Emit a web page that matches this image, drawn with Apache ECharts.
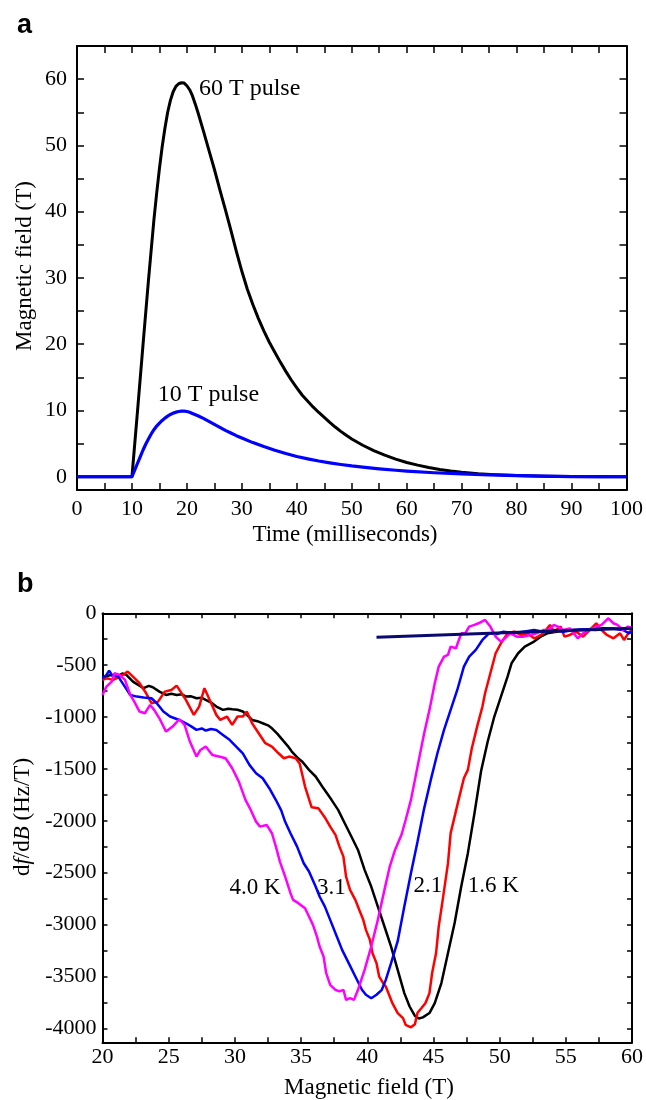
<!DOCTYPE html>
<html><head><meta charset="utf-8">
<script src="https://cdn.jsdelivr.net/npm/echarts@6/dist/echarts.min.js"></script>
<style>html,body{margin:0;padding:0;background:#fff}#c{width:646px;height:1100px}</style>
</head><body><div id="c"></div>
<script>
// ---------- Panel a data: time (ms), field (T) ----------
const pulse60 = [[0,0],[10,0],[10.5,4.9],[11,9.8],[12,19.8],[13,29.6],[14,38.8],[14.5,42.8],[15,46.5],[15.5,49.8],[16,52.6],[16.5,55.0],[17,56.8],[17.5,58.1],[18,58.9],[18.5,59.3],[19,59.45],[19.5,59.4],[20,59.0],[20.5,58.4],[21,57.5],[21.5,56.3],[22,55.0],[23,52.2],[24,49.3],[25,46.4],[26,43.3],[27,40.3],[28,37.2],[29,34.0],[30,31.0],[31,28.3],[32,26.0],[33,23.9],[34,22.0],[35,20.3],[36,18.8],[37,17.3],[38,15.9],[39,14.6],[40,13.4],[41,12.3],[42,11.4],[43,10.5],[44,9.7],[45,8.95],[46,8.2],[47,7.5],[48,6.85],[49,6.25],[50,5.7],[52,4.75],[54,3.95],[56,3.25],[58,2.65],[60,2.15],[62,1.75],[64,1.4],[66,1.1],[68,0.87],[70,0.68],[73,0.47],[76,0.32],[80,0.18],[85,0.07],[90,0.02],[95,0],[100,0]];
const pulse10 = [[0,0],[10,0],[10.5,1.0],[11,2.0],[11.5,3.0],[12,4.0],[12.5,4.9],[13,5.7],[13.5,6.45],[14,7.1],[14.5,7.65],[15,8.1],[15.5,8.5],[16,8.85],[16.5,9.15],[17,9.4],[17.5,9.6],[18,9.75],[18.5,9.85],[19,9.9],[19.5,9.9],[20,9.85],[20.5,9.72],[21,9.55],[22,9.2],[23,8.8],[24,8.35],[25,7.9],[26,7.45],[27,7.0],[28,6.6],[29,6.2],[30,5.85],[32,5.15],[34,4.55],[36,4.0],[38,3.5],[40,3.05],[42,2.7],[44,2.38],[46,2.1],[48,1.85],[50,1.63],[52,1.45],[55,1.2],[58,0.98],[60,0.85],[65,0.6],[70,0.42],[75,0.28],[80,0.16],[85,0.08],[90,0.03],[95,0.01],[100,0]];
const aXLabels = [0,10,20,30,40,50,60,70,80,90,100];
const aXTicks = [0,5,10,15,20,25,30,35,40,45,50,55,60,65,70,75,80,85,90,95,100];
const aYLabels = [0,10,20,30,40,50,60];
const aYTicks = [0,5,10,15,20,25,30,35,40,45,50,55,60];
const aNotes = [{name:'60 T pulse', value:[22.2,58.6]},{name:'10 T pulse', value:[14.7,12.4]}];

// ---------- Panel b data: field (T), df/dB (Hz/T) ----------
const curve16K = [[20,-626],[20.6,-594],[21.1,-610],[21.5,-580],[21.8,-594],[22.3,-658],[22.7,-690],[23.1,-722],[23.5,-700],[23.8,-713],[24.3,-755],[24.8,-787],[25.2,-775],[25.6,-787],[26.0,-780],[26.3,-803],[26.7,-800],[27.1,-819],[27.5,-815],[27.8,-835],[28.2,-860],[28.6,-899],[29.1,-931],[29.5,-920],[29.8,-925],[30.2,-930],[30.6,-947],[31.0,-990],[31.3,-1028],[31.7,-1040],[32.1,-1060],[32.5,-1080],[32.8,-1108],[33.2,-1160],[33.6,-1220],[34.0,-1280],[34.3,-1333],[34.8,-1400],[35.1,-1430],[35.6,-1509],[36.1,-1573],[36.6,-1670],[37.3,-1798],[37.8,-1895],[38.3,-2024],[38.8,-2152],[39.3,-2281],[39.8,-2473],[40.3,-2634],[40.8,-2827],[41.3,-3019],[41.8,-3212],[42.3,-3437],[42.8,-3661],[43.2,-3790],[43.6,-3880],[43.9,-3905],[44.2,-3895],[44.7,-3853],[45.1,-3757],[45.6,-3564],[46.1,-3275],[46.6,-2986],[47.1,-2633],[47.6,-2312],[48.1,-1927],[48.6,-1520],[49.1,-1236],[49.6,-995],[50.1,-803],[50.6,-610],[50.9,-482],[51.4,-385],[51.9,-321],[52.6,-273],[53.1,-225],[53.6,-193],[54.3,-177],[55.3,-161],[56.3,-161],[57.3,-145],[58.3,-145],[59.3,-154],[60,-145]];
const curve21K = [[20,-642],[20.3,-626],[20.8,-642],[21.3,-610],[21.6,-590],[21.9,-562],[22.3,-610],[22.8,-674],[23.3,-771],[23.7,-867],[24.2,-851],[24.7,-755],[25.2,-739],[25.6,-697],[25.9,-755],[26.3,-835],[26.9,-979],[27.3,-899],[27.7,-722],[28.1,-835],[28.6,-979],[28.9,-1028],[29.4,-995],[29.8,-1076],[30.2,-995],[30.6,-995],[30.9,-947],[31.3,-1060],[31.8,-1156],[32.3,-1252],[32.8,-1284],[33.3,-1349],[33.7,-1397],[34.1,-1381],[34.6,-1397],[34.9,-1450],[35.3,-1670],[35.8,-1870],[36.3,-1878],[36.8,-1968],[37.2,-2056],[37.6,-2136],[37.9,-2249],[38.2,-2345],[38.4,-2538],[38.7,-2666],[39.1,-2762],[39.4,-2859],[39.7,-2955],[39.9,-3051],[40.2,-3148],[40.4,-3276],[40.7,-3372],[40.9,-3501],[41.2,-3565],[41.4,-3597],[41.7,-3693],[41.9,-3758],[42.3,-3854],[42.7,-3902],[42.9,-3966],[43.3,-3990],[43.6,-3960],[43.8,-3850],[44.1,-3805],[44.4,-3757],[44.7,-3661],[44.9,-3468],[45.2,-3275],[45.4,-3018],[45.7,-2762],[46.1,-2408],[46.3,-2119],[46.6,-1960],[46.9,-1798],[47.3,-1590],[47.6,-1509],[47.9,-1300],[48.3,-1092],[48.7,-899],[48.9,-771],[49.3,-578],[49.7,-385],[50.1,-289],[50.6,-193],[51.1,-177],[51.6,-209],[52.1,-193],[52.6,-241],[52.9,-225],[53.3,-193],[53.8,-112],[54.1,-177],[54.6,-128],[54.9,-225],[55.3,-209],[55.8,-177],[56.3,-225],[56.8,-161],[57.3,-96],[57.7,-161],[58.1,-209],[58.6,-241],[59.1,-193],[59.4,-257],[59.8,-177],[60,-170]];
const curve31K = [[20,-626],[20.3,-594],[20.5,-552],[20.8,-610],[21.1,-594],[21.6,-690],[22.1,-787],[22.6,-803],[23.1,-812],[23.7,-819],[24.1,-867],[24.6,-947],[25.1,-995],[25.8,-1028],[26.3,-1060],[26.7,-1090],[27.1,-1124],[27.5,-1110],[27.8,-1130],[28.2,-1115],[28.6,-1124],[29.1,-1172],[29.6,-1220],[30.1,-1284],[30.6,-1349],[31.1,-1461],[31.6,-1541],[32.1,-1590],[32.6,-1686],[33.1,-1800],[33.5,-1900],[33.8,-2010],[34.2,-2120],[34.7,-2249],[35.2,-2409],[35.6,-2489],[36.1,-2634],[36.4,-2730],[36.8,-2827],[37.2,-2955],[37.7,-3116],[38.1,-3244],[38.6,-3372],[39.1,-3501],[39.6,-3629],[39.9,-3677],[40.3,-3710],[40.7,-3677],[41.1,-3629],[41.4,-3533],[41.8,-3372],[42.3,-3160],[42.8,-2826],[43.3,-2505],[43.8,-2200],[44.3,-1880],[44.8,-1606],[45.3,-1349],[45.8,-1124],[46.3,-931],[46.8,-739],[47.3,-514],[47.7,-417],[48.2,-353],[48.7,-257],[49.2,-193],[49.8,-200],[50.3,-177],[51.1,-193],[51.8,-177],[52.6,-161],[53.3,-177],[54.1,-161],[54.8,-177],[55.6,-161],[56.3,-154],[57.3,-161],[58.3,-145],[59.3,-161],[59.8,-193],[60,-170]];
const curve40K = [[20,-787],[20.3,-706],[20.7,-658],[20.9,-578],[21.3,-594],[21.7,-642],[22.1,-787],[22.4,-851],[22.8,-947],[23.2,-963],[23.6,-883],[23.9,-931],[24.3,-1012],[24.8,-1140],[25.3,-1092],[25.8,-1021],[26.2,-1076],[26.6,-1236],[27.1,-1381],[27.4,-1317],[27.8,-1284],[28.3,-1365],[28.8,-1381],[29.3,-1397],[29.8,-1493],[30.3,-1622],[30.8,-1798],[31.2,-1895],[31.6,-2008],[31.9,-2056],[32.4,-2040],[32.8,-2120],[33.1,-2249],[33.4,-2393],[33.8,-2538],[34.2,-2698],[34.4,-2762],[34.8,-2794],[35.3,-2843],[35.6,-2923],[35.9,-3003],[36.2,-3116],[36.4,-3212],[36.7,-3308],[36.9,-3469],[37.2,-3581],[37.6,-3629],[37.9,-3645],[38.2,-3629],[38.4,-3726],[38.7,-3710],[39.0,-3726],[39.3,-3629],[39.8,-3437],[40.3,-3212],[40.8,-2955],[41.3,-2666],[41.7,-2441],[42.1,-2281],[42.6,-2130],[42.9,-1992],[43.3,-1799],[43.8,-1477],[44.3,-1156],[44.7,-931],[45.1,-674],[45.4,-514],[45.8,-417],[46.1,-401],[46.3,-321],[46.7,-337],[47.1,-193],[47.4,-193],[47.7,-128],[48.1,-112],[48.4,-96],[48.9,-64],[49.3,-128],[49.7,-225],[50.1,-273],[50.4,-241],[50.8,-193],[51.3,-225],[51.8,-225],[52.3,-209],[52.8,-193],[53.3,-161],[53.7,-161],[54.1,-112],[54.4,-128],[54.8,-161],[55.3,-145],[55.9,-241],[56.3,-193],[56.8,-161],[57.3,-128],[57.7,-112],[58.2,-48],[58.6,-96],[58.9,-112],[59.3,-161],[59.7,-128],[60,-140]];
const baseline = [[40.7,-230],[60,-145]];
const bXLabels = [20,25,30,35,40,45,50,55,60];
const bXTicks = [20,22.5,25,27.5,30,32.5,35,37.5,40,42.5,45,47.5,50,52.5,55,57.5,60];
const bYLabels = [0,-500,-1000,-1500,-2000,-2500,-3000,-3500,-4000];
const bYTicks = [0,-250,-500,-750,-1000,-1250,-1500,-1750,-2000,-2250,-2500,-2750,-3000,-3250,-3500,-3750,-4000];
const bNotes = [{name:'4.0 K', value:[29.6,-2650]},{name:'3.1', value:[36.2,-2650]},{name:'2.1', value:[43.5,-2630]},{name:'1.6 K', value:[47.6,-2630]}];

const SERIF = 'Liberation Serif';
function axis(gi, pos, min, max, labels, ticks, show, margin, tickLen) {
  return {
    type: 'value', gridIndex: gi, position: pos, min: min, max: max,
    axisLine: {show: true, onZero: false, lineStyle: {color: '#000', width: 2}},
    axisTick: {show: true, inside: true, length: tickLen, customValues: ticks, lineStyle: {color: '#000', width: 1.5}},
    axisLabel: {show: show, customValues: labels, margin: margin, color: '#000', fontFamily: SERIF, fontSize: 22,
      formatter: v => String(v)},
    splitLine: {show: false}
  };
}
const chart = echarts.init(document.getElementById('c'), null, {renderer: 'canvas'});
function noteLabel(size) {
  return {show: true, position: 'right', distance: 0, formatter: p => p.name, color: '#000', opacity: 1, fontFamily: SERIF, fontSize: size};
}
chart.setOption({
  animation: false,
  backgroundColor: '#fff',
  grid: [
    {left: 77, top: 46, width: 554.7, height: 444},
    {left: 102.5, top: 613.3, width: 533.5, height: 429}
  ],
  xAxis: [
    axis(0, 'bottom', 0, 100, aXLabels, aXTicks, true, 8, 7),
    axis(0, 'top', 0, 100, aXLabels, aXTicks, false, 8, 7),
    axis(1, 'bottom', 20, 60, bXLabels, bXTicks, true, 4, 5),
    axis(1, 'top', 20, 60, bXLabels, bXTicks, false, 4, 5)
  ],
  yAxis: [
    axis(0, 'left', -2, 65, aYLabels, aYTicks, true, 10, 7),
    axis(0, 'right', -2, 65, aYLabels, aYTicks, false, 10, 7),
    axis(1, 'left', -4135, 0, bYLabels, bYTicks, true, 6, 5),
    axis(1, 'right', -4135, 0, bYLabels, bYTicks, false, 6, 5)
  ],
  series: [
    {type: 'line', xAxisIndex: 0, yAxisIndex: 0, data: pulse60, showSymbol: false, lineStyle: {color: '#000', width: 3, join: 'round'}},
    {type: 'line', xAxisIndex: 0, yAxisIndex: 0, data: pulse10, showSymbol: false, lineStyle: {color: '#0000ff', width: 3.2, join: 'round'}},
    {type: 'scatter', xAxisIndex: 0, yAxisIndex: 0, data: aNotes, symbolSize: 0, itemStyle: {opacity: 1}, label: noteLabel(24)},
    {type: 'line', xAxisIndex: 2, yAxisIndex: 2, data: curve16K, showSymbol: false, lineStyle: {color: '#000', width: 2.5}},
    {type: 'line', xAxisIndex: 2, yAxisIndex: 2, data: curve21K, showSymbol: false, lineStyle: {color: '#ff0000', width: 2.5}},
    {type: 'line', xAxisIndex: 2, yAxisIndex: 2, data: curve31K, showSymbol: false, lineStyle: {color: '#0000ff', width: 2.5}},
    {type: 'line', xAxisIndex: 2, yAxisIndex: 2, data: curve40K, showSymbol: false, lineStyle: {color: '#ff00ff', width: 2.5}},
    {type: 'line', xAxisIndex: 2, yAxisIndex: 2, data: baseline, showSymbol: false, lineStyle: {color: '#0a0a6e', width: 3}},
    {type: 'scatter', xAxisIndex: 2, yAxisIndex: 2, data: bNotes, symbolSize: 0, itemStyle: {opacity: 1}, label: noteLabel(23)}
  ],
  graphic: [
    {type: 'text', left: 17, top: 12, style: {text: 'a', font: 'bold 27px "Liberation Sans"', fill: '#000'}},
    {type: 'text', left: 17, top: 571, style: {text: 'b', font: 'bold 27px "Liberation Sans"', fill: '#000'}},
    {type: 'text', x: 25, y: 266, rotation: Math.PI / 2, style: {text: 'Magnetic field (T)', font: '23px "Liberation Serif"', fill: '#000', textAlign: 'center', textVerticalAlign: 'middle'}},
    {type: 'text', x: 345, y: 535, style: {text: 'Time (milliseconds)', font: '23px "Liberation Serif"', fill: '#000', textAlign: 'center', textVerticalAlign: 'middle'}},
    {type: 'text', x: 23, y: 817, rotation: Math.PI / 2, style: {
      text: '{n|d}{i|f}{n|/d}{i|B}{n| (Hz/T)}', textAlign: 'center', textVerticalAlign: 'middle',
      rich: {n: {fontFamily: SERIF, fontSize: 23, fill: '#000'}, i: {fontFamily: SERIF, fontSize: 23, fontStyle: 'italic', fill: '#000'}}}},
    {type: 'text', x: 369, y: 1088, style: {text: 'Magnetic field (T)', font: '23px "Liberation Serif"', fill: '#000', textAlign: 'center', textVerticalAlign: 'middle'}}
  ]
});
</script>
</body></html>
